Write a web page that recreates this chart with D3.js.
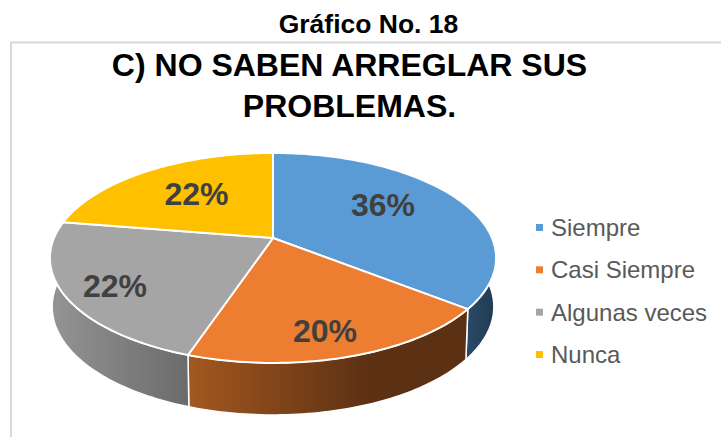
<!DOCTYPE html>
<html><head><meta charset="utf-8">
<script src="https://cdn.jsdelivr.net/npm/d3@7/dist/d3.min.js"></script>
<style>html,body{margin:0;background:#fff}svg{display:block}text{font-family:"Liberation Sans",Arial,sans-serif}</style>
</head><body><div id="c"></div>
<script>
const categories=["Siempre","Casi Siempre","Algunas veces","Nunca"];
const values=[35.6,19.5,22.4,22.4];
const colors=["#5B9BD5","#ED7D31","#A5A5A5","#FFC000"];
const sideLeft=["#2a4a68","#a3581f","#949494","#997300"];
const sideRight=["#203a52","#5c3013","#6b6b6b","#997300"];
const figureTitle="Gráfico No. 18";
const chartTitle=["C) NO SABEN ARREGLAR SUS","PROBLEMAS."];

const svg=d3.select("#c").append("svg").attr("width",721).attr("height",437);
const defs=svg.append("defs");
// chart frame
svg.append("path").attr("d","M11,437V42.5H721").attr("fill","none").attr("stroke","#d9d9d9").attr("stroke-width",2);

svg.append("text").attr("x",368.5).attr("y",33).attr("text-anchor","middle").attr("font-weight","bold").attr("font-size",26.5).attr("fill","#000").text(figureTitle);
svg.selectAll(".ct").data(chartTitle).join("text").attr("class","ct").attr("x",349.5).attr("y",(d,i)=>76+i*41).attr("text-anchor","middle").attr("font-weight","bold").attr("font-size",32).attr("fill","#000").text(d=>d);

// perspective projection of the pie disc
const cx=273,cy=238,a=219,b=101.2,k=-0.19;
const top3=t=>{const u=Math.sin(t),v=-Math.cos(t),w=1+k*v;return [cx+a*u/w,cy+b*v/w];};
const low3=t=>{const p=top3(t),v=-Math.cos(t);return [cx+(p[0]-cx)*0.99,p[1]+48+4*v];};
const pie=d3.pie().sort(null).value(d=>d);
const arcs=pie(values);
const line=d3.line();
const samples=(t0,t1)=>{const n=Math.max(2,Math.ceil((t1-t0)/0.02));return d3.range(n+1).map(i=>t0+(t1-t0)*i/n);};

// side walls (visible for the near half of the rim)
const visA=Math.PI/2-0.0,visB=Math.PI*1.5;
const side=svg.append("g");
arcs.forEach((d,i)=>{
  const t0=Math.max(d.startAngle,visA-0.2),t1=Math.min(d.endAngle,visB+0.2);
  if(t1<=t0)return;
  const id="g"+i,up=samples(t0,t1);
  const pts=up.map(top3).concat(up.slice().reverse().map(low3));
  const xs=d3.extent(pts,p=>p[0]);
  const gr=defs.append("linearGradient").attr("id",id).attr("gradientUnits","userSpaceOnUse").attr("x1",xs[0]).attr("x2",xs[1]).attr("y1",0).attr("y2",0);
  gr.append("stop").attr("offset",0).attr("stop-color",sideLeft[i]);
  gr.append("stop").attr("offset",i===1?0.65:1).attr("stop-color",sideRight[i]);
  side.append("path").attr("d",line(pts)+"Z").attr("fill",`url(#${id})`).attr("stroke","#fff").attr("stroke-width",1.5).attr("stroke-linejoin","round");
});
// top face
svg.append("g").selectAll("path").data(arcs).join("path")
  .attr("d",d=>line([[cx,cy]].concat(samples(d.startAngle,d.endAngle).map(top3)))+"Z")
  .attr("fill",(d,i)=>colors[i]).attr("stroke","#fff").attr("stroke-width",2).attr("stroke-linejoin","round");
// data labels
const labelPos=[[383,216],[325,342],[115,297],[196.5,204.5]];
svg.append("g").selectAll("text").data(arcs).join("text")
  .attr("x",(d,i)=>labelPos[i][0]).attr("y",(d,i)=>labelPos[i][1]).attr("text-anchor","middle")
  .attr("font-weight","bold").attr("font-size",32).attr("fill","#404040").text(d=>Math.round(d.value)+"%");
// legend
const legY=d3.scalePoint().domain(categories).range([228,355]);
const lg=svg.append("g").selectAll("g").data(categories).join("g").attr("transform",d=>`translate(536,${legY(d)})`);
lg.append("rect").attr("y",-4).attr("width",7).attr("height",7).attr("fill",(d,i)=>colors[i]);
lg.append("text").attr("x",15).attr("y",8).attr("font-size",24).attr("fill","#595959").text(d=>d);
</script></body></html>
